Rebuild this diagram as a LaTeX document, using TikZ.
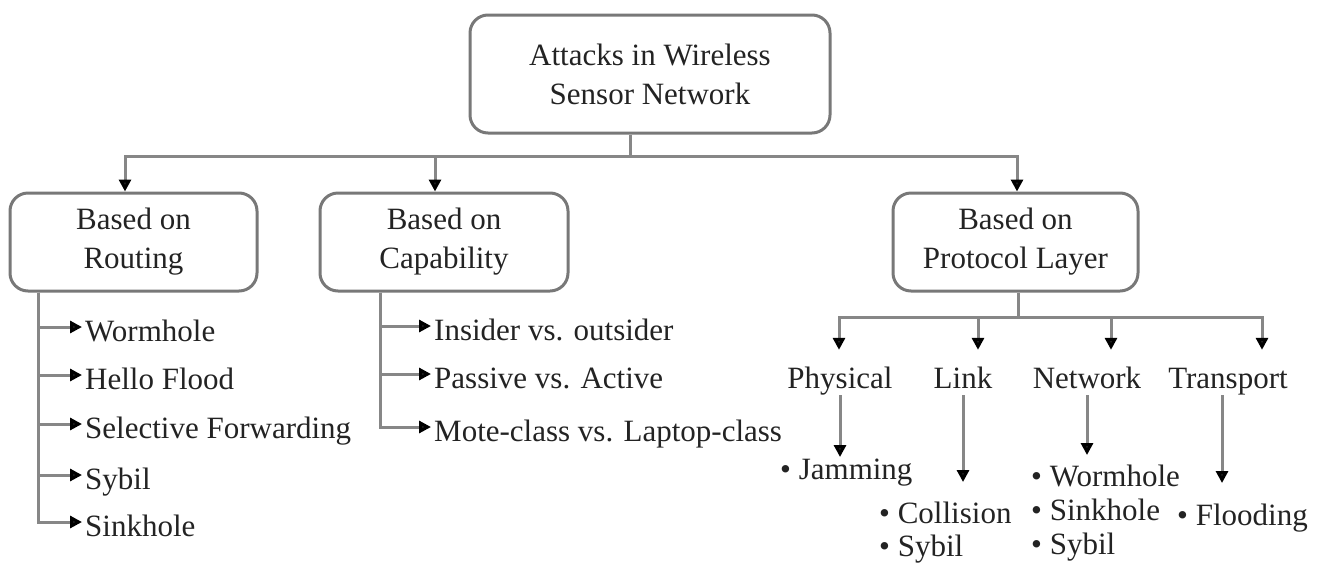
\documentclass[tikz,border=0pt]{standalone}
\definecolor{linegray}{RGB}{135,135,135}
\definecolor{boxgray}{RGB}{120,120,120}
\definecolor{inkgray}{RGB}{35,35,35}
\usepackage{fontspec}
\setmainfont{Liberation Serif}
\usepackage{tikz}
\usetikzlibrary{arrows.meta,calc}

\begin{document}
\begin{tikzpicture}[x=1pt,y=-1pt,
    box/.style={draw=boxgray,line width=3pt,rounded corners=18pt,align=center,inner sep=0pt},
    line/.style={draw=linegray,line width=3pt},
    arr/.style={line,-{Triangle[length=12pt,width=12pt,color=black]}},
    item/.style={anchor=west,inner xsep=3pt,inner ysep=0pt,text height=28pt,text depth=0pt},
    layer/.style={inner sep=0pt,text height=21pt,text depth=7pt},
    list/.style={anchor=north west,align=left,inner sep=0pt,font=\fontsize{31}{33}\selectfont}]
      \fontsize{31}{39}\selectfont
      \color{inkgray}
      \useasboundingbox (0,0) rectangle (1319,563);
      \node[box, minimum width=360pt, minimum height=118pt] (root) at (650,74)  {Attacks in Wireless\\Sensor Network};
      \node[box, minimum width=247pt, minimum height=98pt]  (rout) at (133.5,242) {Based on\\Routing};
      \node[box, minimum width=248pt, minimum height=98pt]  (cap)  at (444,242)   {Based on\\Capability};
      \node[box, minimum width=245pt, minimum height=98pt]  (prot) at (1015.5,242) {Based on\\Protocol Layer};
      \coordinate (hub) at (630,156);
      \coordinate (layerhub) at (1018,317);
      % routing
      \node[item] (w1) at (82,327) {Wormhole};
      \node[item] (w2) at (82,375) {Hello Flood};
      \node[item] (w3) at (82,424) {Selective Forwarding};
      \node[item] (w4) at (82,475) {Sybil};
      \node[item] (w5) at (82,522) {Sinkhole};
      % capability
      \node[item] (c1) at (431,326) {Insider vs. outsider};
      \node[item] (c2) at (431,374) {Passive vs. Active};
      \node[item] (c3) at (431,427) {Mote-class vs. Laptop-class};
      % protocol layer
      \node[layer] (phy) at (840,381)  {Physical};
      \node[layer] (lnk) at (963,381)  {Link};
      \node[layer] (net) at (1087,381) {Network};
      \node[layer] (trn) at (1228,381) {Transport};
      \node[list] (jam)     at (780,459)  {\textbullet\ Jamming};
      \node[list] (lnklist) at (879,502)  {\textbullet\ Collision\\\textbullet\ Sybil};
      \node[list] (netlist) at (1031,465) {\textbullet\ Wormhole\\[1pt]\textbullet\ Sinkhole\\[1pt]\textbullet\ Sybil};
      \node[list] (trnlist) at (1177,504) {\textbullet\ Flooding};
      \draw[line] ([xshift=-20pt]root.south) -- (hub);
      \draw[arr] (hub) -| ([xshift=-8.5pt]rout.north);
      \draw[arr] (hub) -| ([xshift=-9pt]cap.north);
      \draw[arr] (hub) -| ([xshift=1.5pt]prot.north);
      \draw[arr] ([xshift=-95.5pt]rout.south) |- (w1);
      \draw[arr] ([xshift=-95.5pt]rout.south) |- (w2);
      \draw[arr] ([xshift=-95.5pt]rout.south) |- (w3);
      \draw[arr] ([xshift=-95.5pt]rout.south) |- (w4);
      \draw[arr] ([xshift=-95.5pt]rout.south) |- (w5);
      \draw[arr] ([xshift=-64pt]cap.south) |- (c1);
      \draw[arr] ([xshift=-64pt]cap.south) |- (c2);
      \draw[arr] ([xshift=-64pt]cap.south) |- (c3);
      \draw[line] ([xshift=2.5pt]prot.south) -- (layerhub);
      \draw[arr] (layerhub) -| ($(phy.north)+(-1,-17)$);
      \draw[arr] (layerhub) -| ($(lnk.north)+(15,-17)$);
      \draw[arr] (layerhub) -| ($(net.north)+(24,-17)$);
      \draw[arr] (layerhub) -| ($(trn.north)+(34,-17)$);
      \draw[arr] (phy) -- ($(phy |- jam.north)+(0,-2)$);
      \draw[arr] (lnk) -- ($(lnk |- lnklist.north)+(0,-20)$);
      \draw[arr] (net) -- ($(net |- netlist.north)+(0,-10)$);
      \draw[arr] ([xshift=-6pt]trn.south) -- ($([xshift=-6pt]trn.south |- trnlist.north)+(0,-21)$);
    \end{tikzpicture}
\end{document}
